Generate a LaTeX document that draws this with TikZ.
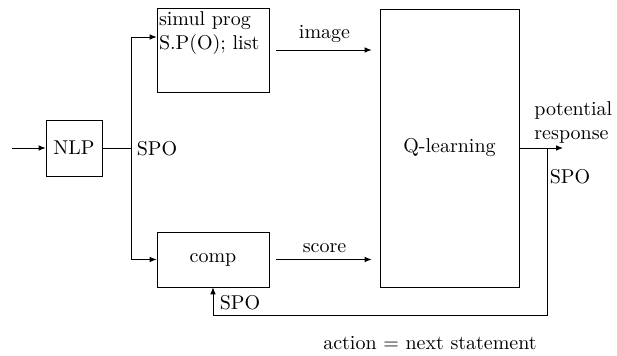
\documentclass[tikz,border=0pt]{standalone}
\usetikzlibrary{arrows.meta,calc}
\begin{document}
\begin{tikzpicture}[x=0.5pt,y=-0.5pt,
  box/.style={draw,rectangle,inner sep=0pt},
  conn/.style={-{Latex[length=3.5pt,width=2.8pt]}},
  lbl/.style={inner sep=1pt}]
\useasboundingbox (0,0) rectangle (617,356);
% nodes
\node[box,minimum width=28pt,minimum height=28pt] (nlp) at (74,148) {NLP};
\node[box,minimum width=56pt,minimum height=42pt] (sim) at (213,50) {};
\node[align=left,anchor=north west,inner xsep=1pt,inner ysep=2pt] (simtxt) at (sim.north west) {simul prog\\S.P(O); list};
\node[box,minimum width=56pt,minimum height=27.5pt] (comp) at (213,259.5) {comp};
\node[box,minimum width=69.5pt,minimum height=139pt] (q) at (449.5,148) {Q-learning};
% coordinates
\coordinate (in) at (12,148);
\coordinate (j) at (131,148);
\coordinate (out) at (563,148);
\coordinate (fb) at (547,148);
\coordinate (fbb) at (547,315);
% connectors
\draw[conn] (in) -- (nlp.west);
\draw (nlp.east) -- (j);
\draw[conn] (j) |- ([yshift=6.5pt]sim.west);
\draw[conn] (j) |- (comp.west);
\draw[conn,shorten <=3.5pt,shorten >=4pt] (sim.east) -- (sim.east -| q.west) node[midway,above] (limg) {image};
\draw[conn,shorten <=3.5pt,shorten >=4pt] (comp.east) -- (comp.east -| q.west) node[midway,above] (lsc) {score};
\draw[conn] (q.east) -- (out);
\draw[conn] (fb) -- (fbb) -| (comp.south);
% labels
\node[lbl] (spo1) at (157,149) {SPO};
\node[lbl,align=left,anchor=south west] (pot) at (532,146) {potential\\response};
\node[lbl] (spo2) at (570,177) {SPO};
\node[lbl] (spo3) at (240,303) {SPO};
\node (act) at (430,343) {action = next statement};
\end{tikzpicture}
\end{document}
